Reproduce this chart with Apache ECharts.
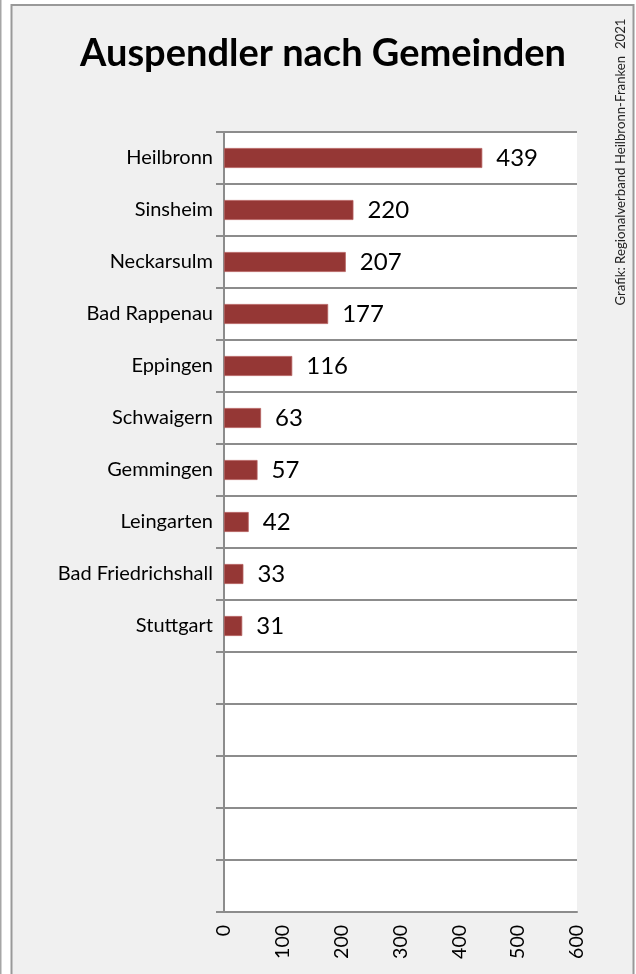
<!DOCTYPE html>
<html><head><meta charset="utf-8">
<script src="https://cdn.jsdelivr.net/npm/echarts@6/dist/echarts.min.js"></script>
<style>html,body{margin:0;padding:0;background:#fff;}#c{width:636px;height:974px;}</style>
</head><body><div id="c"></div>
<script>
const titleText = 'Auspendler nach Gemeinden';
const sourceText = 'Grafik: Regionalverband Heilbronn-Franken  2021';
const categories = ['Heilbronn','Sinsheim','Neckarsulm','Bad Rappenau','Eppingen','Schwaigern','Gemmingen','Leingarten','Bad Friedrichshall','Stuttgart','','','','',''];
const values = [439,220,207,177,116,63,57,42,33,31];
const xMin = 0, xMax = 600, xStep = 100;

const FONT = 'Lato';
const chart = echarts.init(document.getElementById('c'));
chart.setOption({
  animation: false,
  title: {
    text: titleText, left: 318, top: 30, textAlign: 'center',
    textStyle: {fontFamily: FONT, fontWeight: 'bold', fontSize: 38, color: '#000'}
  },
  graphic: [
    {type:'rect', z:-10, shape:{x:0,y:0,width:1.5,height:974}, style:{fill:'#a6a6a6'}},
    {type:'rect', z:-10, shape:{x:11.5,y:5,width:622,height:980}, style:{fill:'#f0f0f0', stroke:'#999', lineWidth:2}},
    {type:'text', z:10, x:621, y:162, rotation: Math.PI/2,
     style:{text: sourceText, fontFamily: FONT, fontSize: 13.2, fill:'#222', align:'center', verticalAlign:'middle'}}
  ],
  grid: {left:224, top:132, width:353, height:780, show:true, backgroundColor:'#fff', borderWidth:0, containLabel:false},
  xAxis: {
    type:'value', min:xMin, max:xMax, interval:xStep,
    axisLine:{show:true, lineStyle:{color:'#8c8c8c', width:2}},
    axisTick:{show:false}, splitLine:{show:false},
    axisLabel:{rotate:90, margin:13, fontFamily:FONT, fontSize:19.5, color:'#000'}
  },
  yAxis: {
    type:'category', inverse:true, data: categories,
    axisLine:{show:true, lineStyle:{color:'#8c8c8c', width:2}},
    axisTick:{show:true, length:8, lineStyle:{color:'#8c8c8c', width:2}},
    splitLine:{show:true, lineStyle:{color:'#8c8c8c', width:2}},
    axisLabel:{margin:11, fontFamily:FONT, fontSize:20, color:'#000'}
  },
  series: [{
    type:'bar', data: values, barWidth: 20,
    itemStyle:{color:'#953735', borderColor:'#b5605e', borderWidth:0.8},
    label:{show:true, position:'right', distance:14, fontFamily:FONT, fontSize:24, color:'#000'}
  }]
});
</script></body></html>
